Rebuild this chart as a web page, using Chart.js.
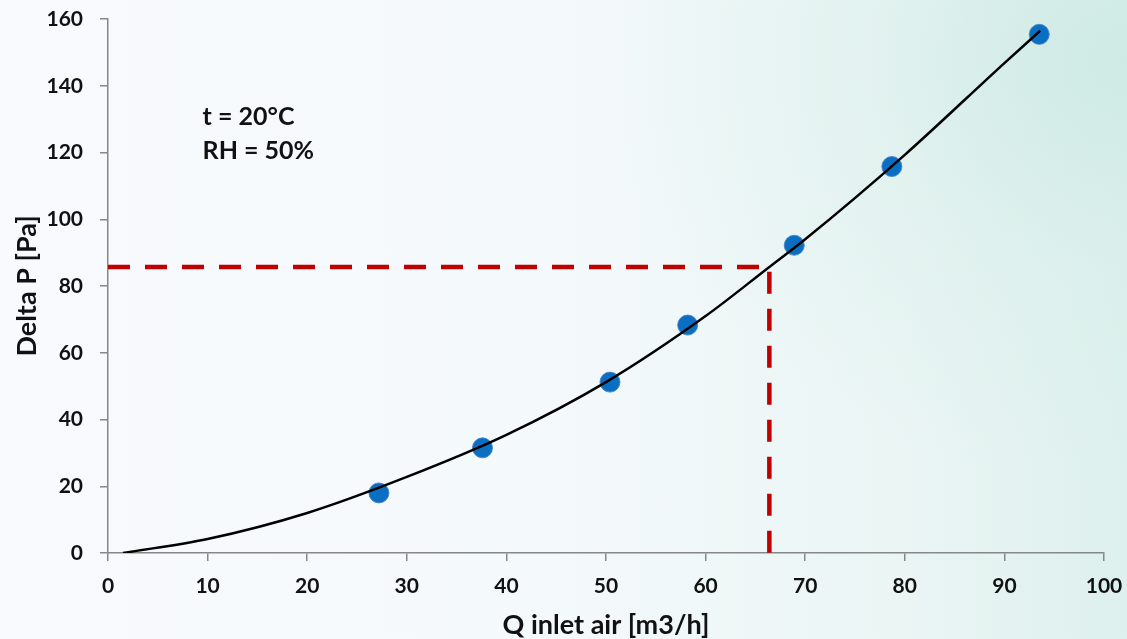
<!DOCTYPE html>
<html>
<head>
<meta charset="utf-8">
<script src="https://cdn.jsdelivr.net/npm/chart.js@4.4.0/dist/chart.umd.min.js"></script>
<style>
  html, body { margin: 0; padding: 0; }
  body {
    width: 1127px; height: 639px; overflow: hidden;
    background:
      radial-gradient(ellipse 520px 420px at 1127px 60px, rgba(205,233,227,0.9), rgba(215,238,233,0.45) 50%, rgba(240,248,250,0) 100%),
      linear-gradient(to right, #f8fafd 0%, #f4f9fb 50%, #eaf5f4 80%, #ddf0ed 100%);
  }
  #chart { display: block; }
</style>
</head>
<body>
<canvas id="chart" width="1127" height="639"></canvas>
<script>
// measured points
const qMeasured = [27.2, 37.6, 50.4, 58.2, 68.9, 78.7, 93.5];
const dpMeasured = [18.0, 31.5, 51.2, 68.3, 92.2, 115.8, 155.4];

// fitted curve
const qFit = [1.5, 10, 20, 30, 40, 50, 60, 66.4, 70, 80, 90, 93.6];
const dpFit = [0, 4.2, 12, 22.8, 35.4, 51.2, 71, 85.7, 94, 119.3, 146.8, 156.5];

// reading at the operating point
const qRead = [0, 66.4, 66.4];
const dpRead = [85.7, 85.7, 0];

const notes = ['t = 20°C', 'RH = 50%'];

const xTicks = [0, 10, 20, 30, 40, 50, 60, 70, 80, 90, 100];
const yTicks = [0, 20, 40, 60, 80, 100, 120, 140, 160];

function toXY(xs, ys) {
    return xs.map((x, i) => ({ x: x, y: ys[i] }));
}

const axisGray = '#878787';
const tickFont = { family: 'Lato', size: 21, weight: 'bold' };
const titleFont = { family: 'Lato', size: 27, weight: 'bold' };

// text block in the upper left
const notesPlugin = {
    id: 'notes',
    afterDatasetsDraw(chart) {
        const ctx = chart.ctx;
        const x = chart.scales.x.getPixelForValue(9.5);
        ctx.save();
        ctx.font = 'bold 25px Lato';
        ctx.fillStyle = '#111';
        ctx.textBaseline = 'middle';
        ctx.fillText(notes[0], x, chart.scales.y.getPixelForValue(130.6));
        ctx.fillText(notes[1], x, chart.scales.y.getPixelForValue(120.4));
        ctx.restore();
    }
};

new Chart(document.getElementById('chart'), {
    type: 'scatter',
    data: {
        datasets: [
            {
                type: 'line',
                data: toXY(qFit, dpFit),
                borderColor: '#000',
                borderWidth: 2.5,
                pointRadius: 0,
                cubicInterpolationMode: 'monotone',
                fill: false,
                order: 0
            },
            {
                data: toXY(qMeasured, dpMeasured),
                backgroundColor: '#0a6fc2',
                borderColor: 'rgba(70,130,200,0.9)',
                borderWidth: 1,
                pointRadius: 10,
                order: 1
            },
            {
                type: 'line',
                data: toXY(qRead, dpRead),
                borderColor: '#c00000',
                borderWidth: 4.5,
                borderDash: [22, 15],
                pointRadius: 0,
                tension: 0,
                fill: false,
                order: 2
            }
        ]
    },
    options: {
        responsive: false,
        animation: false,
        layout: { padding: { top: 19, right: 23, left: 0, bottom: 0 } },
        plugins: {
            legend: { display: false },
            tooltip: { enabled: false }
        },
        scales: {
            x: {
                type: 'linear',
                min: 0,
                max: 100,
                afterBuildTicks: scale => { scale.ticks = xTicks.map(v => ({ value: v })); },
                afterFit: scale => {
                    scale.height = 86;
                    scale.paddingLeft = 0;
                    scale.paddingRight = 0;
                },
                grid: { drawOnChartArea: false, drawTicks: true, tickLength: 8, color: axisGray, lineWidth: 1.5 },
                border: { display: true, color: axisGray, width: 1.5 },
                ticks: { color: '#111', font: tickFont, padding: 13 },
                title: { display: true, text: 'Q inlet air [m3/h]', color: '#111', font: titleFont, padding: { top: 0, bottom: -2 } }
            },
            y: {
                type: 'linear',
                min: 0,
                max: 160,
                afterBuildTicks: scale => { scale.ticks = yTicks.map(v => ({ value: v })); },
                afterFit: scale => {
                    scale.width = 108;
                    scale.paddingTop = 0;
                    scale.paddingBottom = 0;
                },
                grid: { drawOnChartArea: false, drawTicks: true, tickLength: 8, color: axisGray, lineWidth: 1.5 },
                border: { display: true, color: axisGray, width: 1.5 },
                ticks: { color: '#111', font: tickFont, padding: 17 },
                title: { display: true, text: 'Delta P [Pa]', color: '#111', font: titleFont, padding: { top: 11, bottom: 0 } }
            }
        }
    },
    plugins: [notesPlugin]
});
</script>
</body>
</html>
